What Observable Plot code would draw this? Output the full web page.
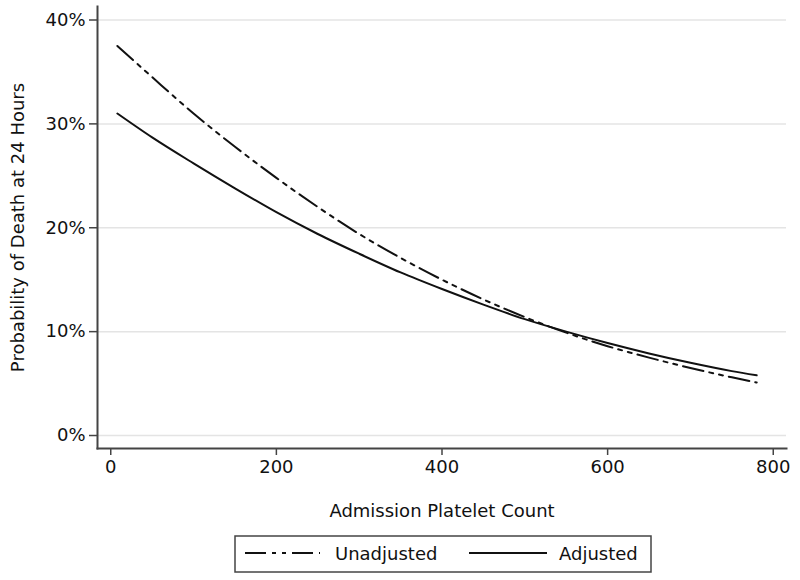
<!DOCTYPE html>
<html>
<head>
<meta charset="utf-8">
<script src="https://cdn.jsdelivr.net/npm/d3@7"></script>
<script src="https://cdn.jsdelivr.net/npm/@observablehq/plot@0.6"></script>
<style>
  body { margin: 0; background: #fff; font-family: "DejaVu Sans", sans-serif; }
  #chart { width: 800px; }
  #legend { margin-left: 234px; margin-top: 10px; display: block; }
</style>
</head>
<body>
<div id="chart"></div>
<script>
// Platelet counts at which the curves were read
const platelets = [8, 50, 100, 150, 200, 250, 300, 350, 400, 450, 500, 550, 600, 650, 700, 750, 780];
// Probability of death at 24 hours
const unadjusted = [0.375, 0.345, 0.310, 0.278, 0.248, 0.220, 0.194, 0.171, 0.150, 0.131, 0.114, 0.099, 0.086, 0.075, 0.065, 0.056, 0.051];
const adjusted   = [0.310, 0.287, 0.262, 0.238, 0.215, 0.194, 0.175, 0.157, 0.141, 0.126, 0.112, 0.100, 0.089, 0.079, 0.070, 0.062, 0.058];
const seriesNames = ["Unadjusted", "Adjusted"];
const xTicks = [0, 200, 400, 600, 800];
const yTicks = [0, 0.1, 0.2, 0.3, 0.4];
const xLabel = "Admission Platelet Count";
const yLabel = "Probability of Death at 24 Hours";

const dashUnadj = "21,6,4,6,4,6";

const rows = [];
platelets.forEach((p, i) => {
  rows.push({series: seriesNames[0], x: p, y: unadjusted[i]});
  rows.push({series: seriesNames[1], x: p, y: adjusted[i]});
});

const font = "DejaVu Sans, sans-serif";
const chart = Plot.plot({
  width: 800,
  height: 525,
  marginLeft: 97,
  marginRight: 14,
  marginTop: 6,
  marginBottom: 77,
  style: {fontFamily: font, fontSize: "18px", color: "#111", background: "#fff"},
  x: {domain: [-16, 816]},
  y: {domain: [-0.0125, 0.413]},
  marks: [
    Plot.gridY(yTicks, {stroke: "#e4e4e4", strokeOpacity: 1, strokeWidth: 1.5}),
    Plot.frame({anchor: "left", stroke: "#444", strokeWidth: 2}),
    Plot.frame({anchor: "bottom", stroke: "#444", strokeWidth: 2}),
    Plot.axisY(yTicks, {tickSize: 8, tickPadding: 4, tickFormat: d3.format(".0%"), fontSize: 18, label: null, stroke: "#444", strokeWidth: 1.5}),
    Plot.axisX(xTicks, {tickSize: 7, tickPadding: 5, fontSize: 18, label: null, stroke: "#444", strokeWidth: 1.5}),
    Plot.text([xLabel], {frameAnchor: "bottom", dy: 63, fontSize: 18, lineAnchor: "middle", textAnchor: "middle", fill: "#111"}),
    Plot.text([yLabel], {frameAnchor: "left", dx: -79, rotate: -90, fontSize: 18, lineAnchor: "middle", textAnchor: "middle", fill: "#111"}),
    Plot.line(rows.filter(d => d.series === "Adjusted"), {x: "x", y: "y", stroke: "#111", strokeWidth: 2, curve: "monotone-x"}),
    Plot.line(rows.filter(d => d.series === "Unadjusted"), {x: "x", y: "y", stroke: "#111", strokeWidth: 2, strokeDasharray: dashUnadj, curve: "monotone-x"})
  ]
});
document.getElementById("chart").appendChild(chart);

// Legend below the chart
const lw = 418, lh = 38;
const leg = d3.create("svg").attr("id", "legend").attr("width", lw).attr("height", lh)
  .style("font-family", font);
leg.append("rect").attr("x", 1).attr("y", 1).attr("width", lw - 2).attr("height", lh - 2)
  .attr("fill", "#fff").attr("stroke", "#444").attr("stroke-width", 1.5);
const items = [
  {name: seriesNames[0], dash: dashUnadj, x0: 11, x1: 86, tx: 101},
  {name: seriesNames[1], dash: null, x0: 235, x1: 313, tx: 325}
];
items.forEach(it => {
  leg.append("line").attr("x1", it.x0).attr("x2", it.x1).attr("y1", 18).attr("y2", 18)
    .attr("stroke", "#111").attr("stroke-width", 2).attr("stroke-dasharray", it.dash);
  leg.append("text").attr("x", it.tx).attr("y", 25).attr("font-size", 18).attr("fill", "#111").text(it.name);
});
document.body.appendChild(leg.node());
</script>
</body>
</html>
